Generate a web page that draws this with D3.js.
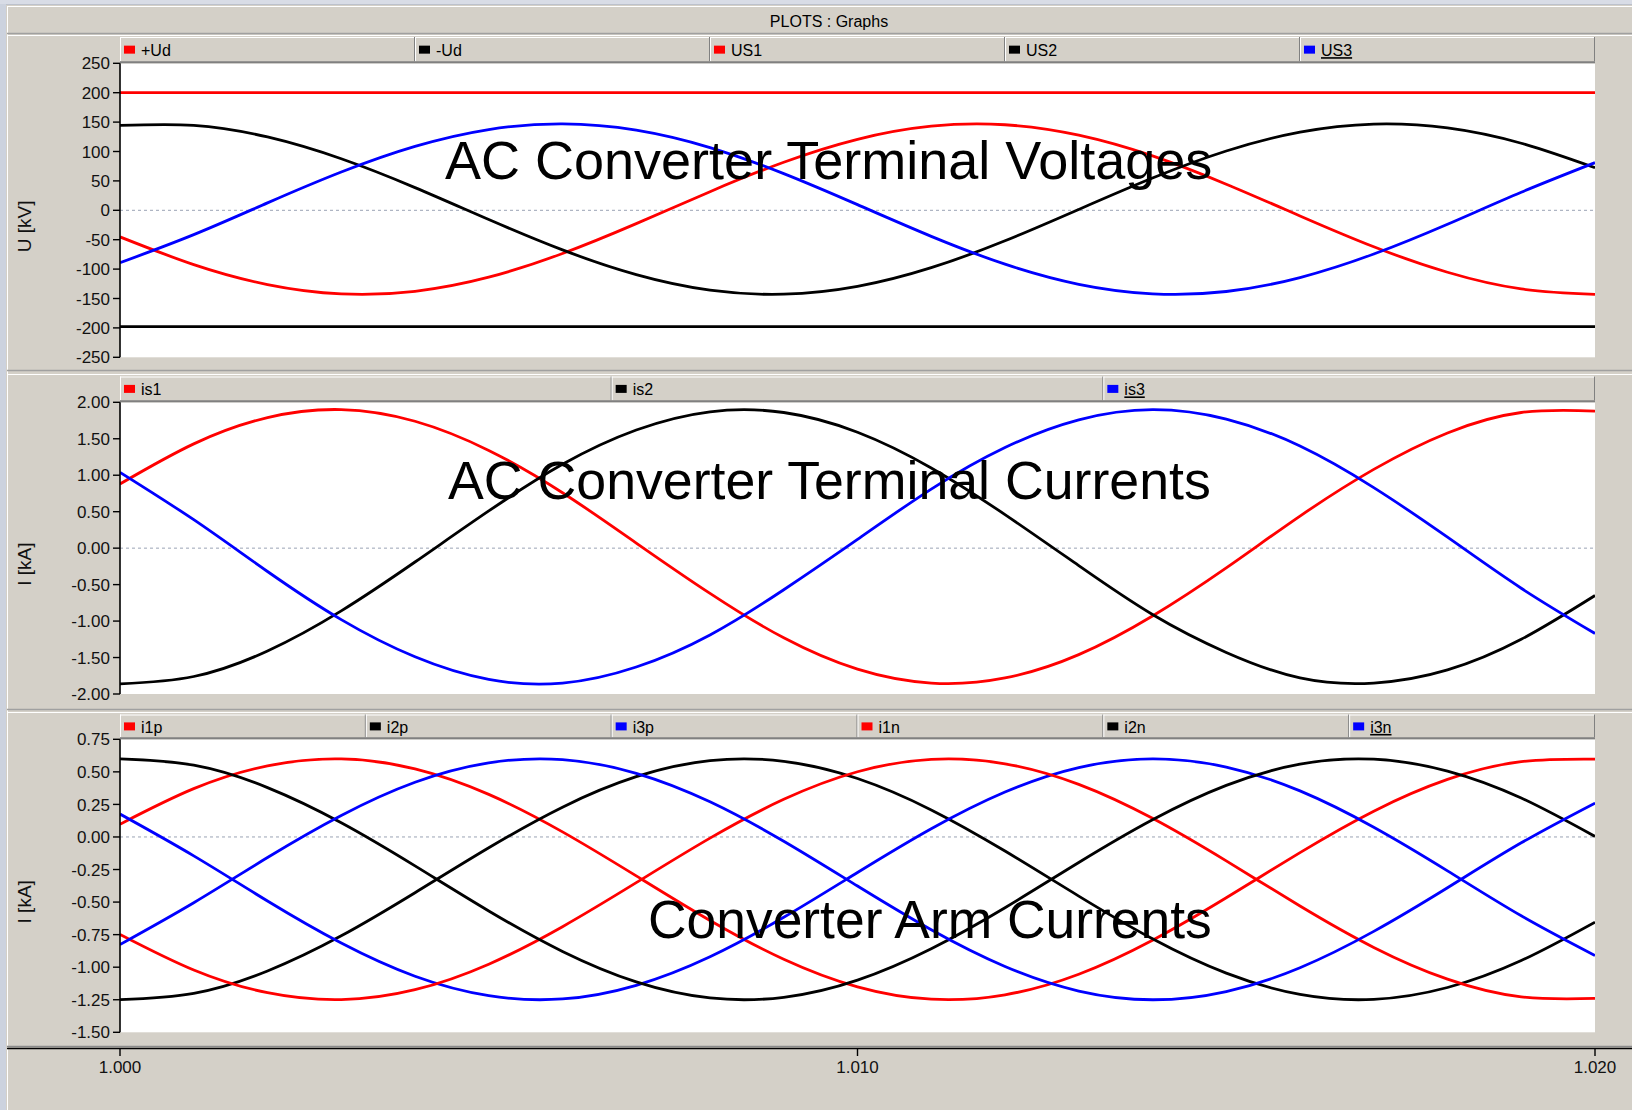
<!DOCTYPE html>
<html><head><meta charset="utf-8">
<script src="https://cdn.jsdelivr.net/npm/d3@7"></script>
<style>html,body{margin:0;padding:0;background:#d4d0c8;overflow:hidden}text{font-family:"Liberation Sans",Arial,sans-serif}</style>
</head><body><svg id="c" width="1632" height="1110"></svg>
<script>
// ---------------- DATA ----------------
const time = [1.000,1.001,1.002,1.003,1.004,1.005,1.006,1.007,1.008,1.009,1.010,1.011,1.012,1.013,1.014,1.015,1.016,1.017,1.018,1.019,1.020];

const voltNames = ["+Ud","-Ud","US1","US2","US3"];
const plusUd  = [200,200,200,200,200,200,200,200,200,200,200,200,200,200,200,200,200,200,200,200,200];
const minusUd = [-198,-198,-198,-198,-198,-198,-198,-198,-198,-198,-198,-198,-198,-198,-198,-198,-198,-198,-198,-198,-198];
const US1 = [-45.2,-92.4,-126.3,-142.2,-137.8,-113.8,-73.5,-22.7,31.7,81.8,120.8,143.1,145.5,127.8,92.5,44.4,-9.6,-62.0,-105.4,-133.7,-143.0];
const US2 = [144.3,144.5,124.7,87.6,38.6,-15.7,-67.4,-109.4,-135.8,-142.7,-129.4,-97.6,-51.9,1.5,54.9,100.9,133.0,146.7,140.1,114.0,72.3];
const US3 = [-89.2,-41.4,12.6,65.1,108.7,137.4,147.0,136.3,106.7,62.4,9.6,-44.3,-91.6,-125.8,-142.0,-138.1,-114.4,-74.4,-23.7,30.7,81.0];

const currNames = ["is1","is2","is3"];
const is1 = [0.88,1.43,1.79,1.90,1.74,1.34,0.76,0.07,-0.62,-1.23,-1.66,-1.85,-1.78,-1.46,-0.93,-0.27,0.44,1.08,1.58,1.86,1.88];
const is2 = [-1.86,-1.76,-1.41,-0.86,-0.19,0.51,1.15,1.62,1.87,1.86,1.59,1.10,0.46,-0.24,-0.91,-1.43,-1.78,-1.85,-1.67,-1.25,-0.65];
const is3 = [1.04,0.39,-0.32,-0.98,-1.49,-1.80,-1.85,-1.63,-1.19,-0.57,0.12,0.81,1.38,1.76,1.90,1.77,1.40,0.83,0.15,-0.55,-1.17];

const armNames = ["i1p","i2p","i3p","i1n","i2n","i3n"];
const i1p = [0.098,0.371,0.546,0.599,0.523,0.327,0.039,-0.299,-0.641,-0.939,-1.151,-1.246,-1.212,-1.054,-0.793,-0.467,-0.120,0.198,0.442,0.578,0.598];
const i2p = [-1.249,-1.201,-1.029,-0.759,-0.428,-0.083,0.229,0.463,0.586,0.581,0.449,0.208,-0.108,-0.454,-0.782,-1.046,-1.209,-1.247,-1.156,-0.949,-0.654];
const i3p = [0.176,-0.145,-0.492,-0.815,-1.070,-1.219,-1.244,-1.139,-0.920,-0.617,-0.273,0.063,0.345,0.533,0.600,0.537,0.354,0.075,-0.260,-0.605,-0.910];
const i1n = [-0.748,-1.021,-1.196,-1.249,-1.173,-0.977,-0.689,-0.351,-0.009,0.289,0.501,0.596,0.562,0.404,0.143,-0.184,-0.530,-0.848,-1.092,-1.228,-1.240];
const i2n = [0.599,0.551,0.379,0.109,-0.222,-0.568,-0.879,-1.113,-1.236,-1.231,-1.099,-0.858,-0.543,-0.196,0.132,0.396,0.559,0.597,0.506,0.299,0.004];
const i3n = [-0.826,-0.505,-0.158,0.165,0.420,0.569,0.594,0.489,0.270,-0.033,-0.377,-0.713,-0.995,-1.183,-1.250,-1.187,-1.004,-0.725,-0.390,-0.045,0.260];

const voltTicks = [250,200,150,100,50,0,-50,-100,-150,-200,-250];
const voltTickLabels = ["250","200","150","100","50","0","-50","-100","-150","-200","-250"];
const currTicks = [2,1.5,1,0.5,0,-0.5,-1,-1.5,-2];
const currTickLabels = ["2.00","1.50","1.00","0.50","0.00","-0.50","-1.00","-1.50","-2.00"];
const armTicks = [0.75,0.5,0.25,0,-0.25,-0.5,-0.75,-1,-1.25,-1.5];
const armTickLabels = ["0.75","0.50","0.25","0.00","-0.25","-0.50","-0.75","-1.00","-1.25","-1.50"];
const xTicks = [1.000,1.010,1.020];
const xTickLabels = ["1.000","1.010","1.020"];

const titleText = "PLOTS : Graphs";
const annotations = ["AC Converter Terminal Voltages","AC Converter Terminal Currents","Converter Arm Currents"];
const yTitles = ["U [kV]","I [kA]","I [kA]"];

// ---------------- LAYOUT ----------------
const RED="#ff0000", BLK="#000000", BLU="#0000ff", GRAY="#d4d0c8";
const svg = d3.select("#c");
const X0 = 120, X1 = 1595;
const x = d3.scaleLinear().domain([1.000,1.020]).range([X0,X1]);

svg.append("rect").attr("width",1632).attr("height",1110).attr("fill",GRAY);
svg.append("rect").attr("x",0).attr("y",0).attr("width",6).attr("height",1110).attr("fill","#ccd2de");
svg.append("rect").attr("x",0).attr("y",0).attr("width",1632).attr("height",4).attr("fill","#d8dce6");
svg.append("line").attr("x1",6).attr("x2",1632).attr("y1",4.5).attr("y2",4.5).attr("stroke","#bcc1cc");
svg.append("line").attr("x1",7.5).attr("x2",7.5).attr("y1",6).attr("y2",1110).attr("stroke","#ffffff");
svg.append("line").attr("x1",7).attr("x2",1632).attr("y1",6.5).attr("y2",6.5).attr("stroke","#ffffff");
svg.append("text").attr("x",829).attr("y",27).attr("text-anchor","middle")
  .attr("font-size",16).attr("fill","#000").text(titleText);

const panels = [
  {sepDark:33.5, sepWhite:35.5, legTop:37, plotTop:63.3, plotBot:357.3, domain:[-250,250],
   ticks:voltTicks, labels:voltTickLabels, names:voltNames,
   series:[plusUd,minusUd,US1,US2,US3], colors:[RED,BLK,RED,BLK,BLU],
   ann:annotations[0], annX:445, annY:179, annSize:54, yTitle:yTitles[0]},
  {sepDark:370.5, sepWhite:374.5, legTop:376.5, plotTop:402.3, plotBot:694, domain:[-2,2],
   ticks:currTicks, labels:currTickLabels, names:currNames,
   series:[is1,is2,is3], colors:[RED,BLK,BLU],
   ann:annotations[1], annX:448, annY:499, annSize:53.7, yTitle:yTitles[1]},
  {sepDark:709.5, sepWhite:712.5, legTop:714.5, plotTop:739.3, plotBot:1032.3, domain:[-1.5,0.75],
   ticks:armTicks, labels:armTickLabels, names:armNames,
   series:[i1p,i2p,i3p,i1n,i2n,i3n], colors:[RED,BLK,BLU,RED,BLK,BLU],
   ann:annotations[2], annX:648, annY:938, annSize:53.4, yTitle:yTitles[2]}
];

panels.forEach((p,pi)=>{
  const g = svg.append("g");
  g.append("line").attr("x1",7).attr("x2",1632).attr("y1",p.sepDark).attr("y2",p.sepDark).attr("stroke","#a0a0a0").attr("stroke-width",1.5);
  g.append("line").attr("x1",8).attr("x2",1632).attr("y1",p.sepWhite).attr("y2",p.sepWhite).attr("stroke","#ffffff").attr("stroke-width",1.2);

  const y = d3.scaleLinear().domain(p.domain).range([p.plotBot,p.plotTop]);

  g.append("rect").attr("x",X0).attr("y",p.plotTop).attr("width",X1-X0).attr("height",p.plotBot-p.plotTop).attr("fill","#ffffff");

  // legend bar
  const lg = g.append("g");
  const n = p.names.length, iw = (X1-X0)/n, lh = p.plotTop - p.legTop;
  lg.append("rect").attr("x",X0).attr("y",p.legTop).attr("width",X1-X0).attr("height",lh).attr("fill",GRAY);
  p.names.forEach((nm,i)=>{
    const lx = X0 + i*iw;
    lg.append("line").attr("x1",lx+0.5).attr("x2",lx+0.5).attr("y1",p.legTop).attr("y2",p.plotTop-2).attr("stroke","#ffffff");
    lg.append("line").attr("x1",lx).attr("x2",lx+iw).attr("y1",p.legTop+0.5).attr("y2",p.legTop+0.5).attr("stroke","#ffffff");
    lg.append("line").attr("x1",lx+iw-0.5).attr("x2",lx+iw-0.5).attr("y1",p.legTop).attr("y2",p.plotTop-2).attr("stroke","#808080");
    lg.append("rect").attr("x",lx+4).attr("y",p.legTop+lh/2-4.5).attr("width",11).attr("height",8).attr("fill",p.colors[i]);
    const t = lg.append("text").attr("x",lx+21).attr("y",p.legTop+lh/2+6).attr("font-size",16).attr("fill","#000").text(nm);
    if(i===n-1) t.attr("text-decoration","underline");
  });
  lg.append("line").attr("x1",X0).attr("x2",X1).attr("y1",p.plotTop-1).attr("y2",p.plotTop-1).attr("stroke","#808080").attr("stroke-width",2);

  // zero line
  g.append("line").attr("x1",X0).attr("x2",X1).attr("y1",y(0)).attr("y2",y(0))
    .attr("stroke","#9aa3b5").attr("stroke-width",1).attr("stroke-dasharray","3,3");

  // curves
  const cid = "clip"+pi;
  svg.append("defs").append("clipPath").attr("id",cid).append("rect")
    .attr("x",X0).attr("y",p.plotTop).attr("width",X1-X0).attr("height",p.plotBot-p.plotTop);
  const line = d3.line().x((d,i)=>x(time[i])).y(d=>y(d)).curve(d3.curveNatural);
  const cg = g.append("g").attr("clip-path",`url(#${cid})`);
  p.series.forEach((s,i)=>{
    cg.append("path").attr("d",line(s)).attr("fill","none").attr("stroke",p.colors[i])
      .attr("stroke-width",2.8).attr("stroke-linejoin","round");
  });

  // annotation
  g.append("text").attr("x",p.annX).attr("y",p.annY).attr("font-size",p.annSize).attr("fill","#000").text(p.ann);

  // y axis
  g.append("line").attr("x1",X0).attr("x2",X0).attr("y1",p.plotTop).attr("y2",p.plotBot).attr("stroke","#000").attr("stroke-width",1.6);
  p.ticks.forEach((tv,i)=>{
    g.append("line").attr("x1",X0-7).attr("x2",X0).attr("y1",y(tv)).attr("y2",y(tv)).attr("stroke","#000").attr("stroke-width",1.4);
    g.append("text").attr("x",X0-10).attr("y",y(tv)).attr("dy","0.36em").attr("text-anchor","end")
      .attr("font-size",17).attr("fill","#111").text(p.labels[i]);
  });
  const cy = (p.plotTop+p.plotBot)/2 + 16;
  g.append("text").attr("transform",`translate(24,${cy}) rotate(-90)`).attr("text-anchor","middle")
    .attr("dy","0.35em").attr("font-size",19).attr("fill","#111").text(p.yTitle);
});

// bottom x axis
svg.append("line").attr("x1",7).attr("x2",1632).attr("y1",1046.5).attr("y2",1046.5).attr("stroke","#8a8a8a").attr("stroke-width",1.5);
svg.append("line").attr("x1",7).attr("x2",1632).attr("y1",1048.5).attr("y2",1048.5).attr("stroke","#000").attr("stroke-width",1.5);
xTicks.forEach((tv,i)=>{
  svg.append("line").attr("x1",x(tv)).attr("x2",x(tv)).attr("y1",1049).attr("y2",1056).attr("stroke","#000").attr("stroke-width",1.4);
  svg.append("text").attr("x",x(tv)).attr("y",1073).attr("text-anchor","middle").attr("font-size",17).attr("fill","#111").text(xTickLabels[i]);
});
</script></body></html>
